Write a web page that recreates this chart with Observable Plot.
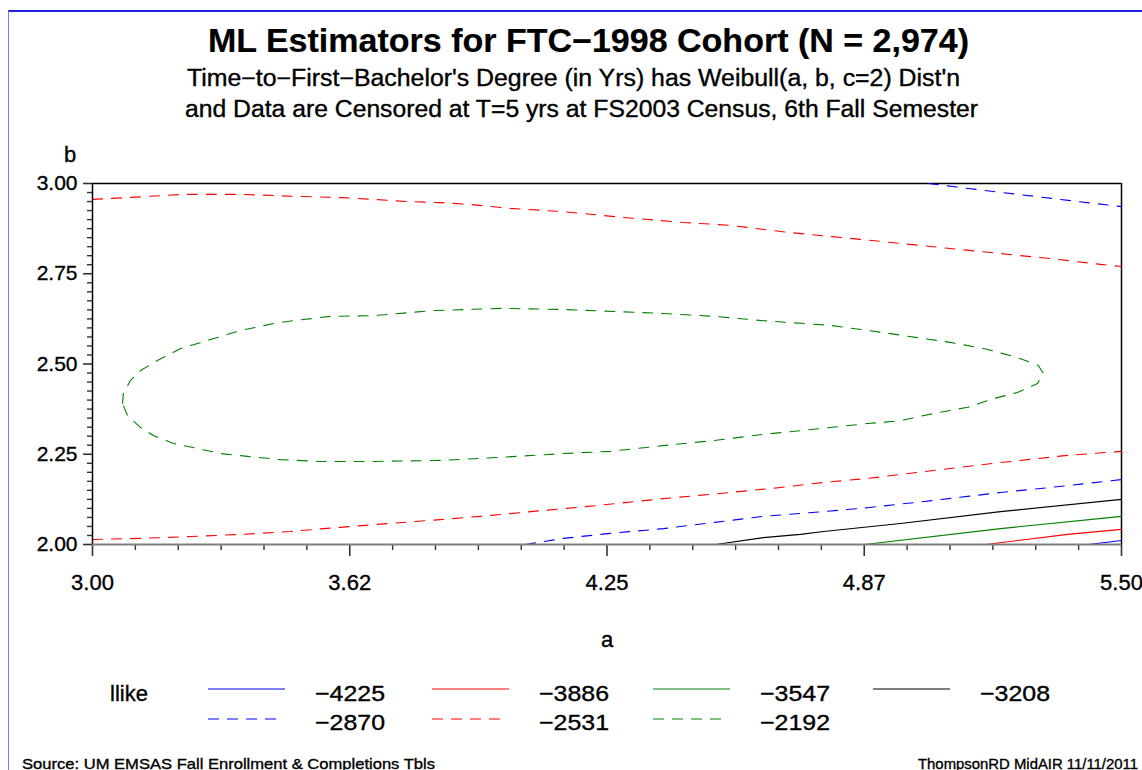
<!DOCTYPE html>
<html><head><meta charset="utf-8">
<script src="https://cdn.jsdelivr.net/npm/d3@7"></script>
<script src="https://cdn.jsdelivr.net/npm/@observablehq/plot@0.6"></script>
<style>
html,body{margin:0;padding:0;background:#fff;}
body{width:1142px;height:770px;overflow:hidden;position:relative;font-family:"Liberation Sans",Arial,sans-serif;color:#000;}
.t{position:absolute;white-space:nowrap;line-height:1;transform-origin:0 0;-webkit-text-stroke:0.35px #000;}
#chart{position:absolute;left:0;top:140px;}
#frame{position:absolute;left:8px;top:10px;right:0;bottom:0;border-top:2px solid #2020e0;border-left:1px solid #7878ff;}
</style></head><body>
<div id="frame"></div>
<div id="chart"></div>
<script>
// ---- data ----
const titleText = "ML Estimators for FTC\u22121998 Cohort (N = 2,974)";
const subtitle1 = "Time\u2212to\u2212First\u2212Bachelor's Degree (in Yrs) has Weibull(a, b, c=2) Dist'n";
const subtitle2 = "and Data are Censored at T=5 yrs at FS2003 Census, 6th Fall Semester";
const sourceText = "Source:  UM EMSAS Fall Enrollment & Completions Tbls";
const creditText = "ThompsonRD MidAIR 11/11/2011";
const legendTitle = "llike";

const xTicks = [3.0, 3.625, 4.25, 4.875, 5.5];
const xTickLabels = ["3.00", "3.62", "4.25", "4.87", "5.50"];
const yTicks = [2.0, 2.25, 2.5, 2.75, 3.0];
const yTickLabels = ["2.00", "2.25", "2.50", "2.75", "3.00"];

const levels = [-4225, -3886, -3547, -3208, -2870, -2531, -2192];

// contour lines (a, b)
const c2192 = [[3.073,2.391],[3.075,2.418],[3.092,2.454],[3.117,2.482],[3.158,2.510],[3.214,2.543],[3.279,2.565],[3.360,2.593],[3.440,2.612],[3.488,2.620],[3.578,2.632],[3.683,2.634],[3.828,2.648],[3.991,2.654],[4.144,2.651],[4.275,2.645],[4.387,2.640],[4.509,2.632],[4.630,2.620],[4.793,2.607],[4.922,2.587],[5.004,2.573],[5.084,2.560],[5.165,2.543],[5.247,2.518],[5.298,2.496],[5.310,2.474],[5.296,2.446],[5.247,2.421],[5.189,2.404],[5.126,2.380],[5.043,2.363],[4.963,2.343],[4.883,2.335],[4.793,2.324],[4.630,2.305],[4.509,2.288],[4.387,2.274],[4.258,2.258],[4.144,2.252],[3.984,2.241],[3.845,2.233],[3.683,2.230],[3.554,2.230],[3.457,2.235],[3.377,2.244],[3.311,2.252],[3.255,2.266],[3.197,2.280],[3.148,2.302],[3.117,2.324],[3.085,2.357],[3.073,2.391]];
const c2531top = [[3.000,2.956],[3.085,2.961],[3.221,2.970],[3.360,2.970],[3.505,2.964],[3.603,2.961],[3.683,2.956],[3.765,2.950],[3.845,2.947],[3.918,2.942],[4.016,2.931],[4.144,2.922],[4.290,2.906],[4.436,2.892],[4.550,2.884],[4.672,2.867],[4.793,2.853],[4.842,2.848],[4.963,2.834],[5.084,2.820],[5.206,2.806],[5.327,2.792],[5.449,2.776],[5.500,2.770]];
const c2531bot = [[3.000,2.014],[3.117,2.017],[3.238,2.022],[3.360,2.028],[3.481,2.036],[3.561,2.044],[3.683,2.055],[3.845,2.069],[3.943,2.078],[4.064,2.091],[4.227,2.108],[4.387,2.127],[4.550,2.144],[4.672,2.158],[4.776,2.172],[4.883,2.183],[5.043,2.205],[5.206,2.227],[5.369,2.247],[5.500,2.258]];
const c2870top = [[5.031,3.000],[5.109,2.989],[5.165,2.981],[5.247,2.970],[5.335,2.958],[5.432,2.945],[5.500,2.936]];
const c2870bot = [[4.052,2.000],[4.144,2.017],[4.251,2.030],[4.387,2.044],[4.509,2.061],[4.630,2.078],[4.776,2.091],[4.883,2.102],[5.043,2.122],[5.206,2.144],[5.369,2.163],[5.500,2.180]];
const c3208 = [[4.514,2.000],[4.630,2.019],[4.720,2.028],[4.776,2.036],[4.963,2.058],[5.206,2.091],[5.500,2.125]];
const c3547 = [[4.876,2.000],[5.206,2.044],[5.500,2.078]];
const c3886 = [[5.170,2.000],[5.369,2.028],[5.500,2.042]];
const c4225 = [[5.420,2.000],[5.500,2.011]];

const pieces = [
  {level: -4225, pts: c4225},
  {level: -3886, pts: c3886},
  {level: -3547, pts: c3547},
  {level: -3208, pts: c3208},
  {level: -2870, pts: c2870top},
  {level: -2870, pts: c2870bot},
  {level: -2531, pts: c2531top},
  {level: -2531, pts: c2531bot},
  {level: -2192, pts: c2192}
];

// ---- styles ----
const levelStyle = {
  "-4225": {color: "#0000ff", dash: false},
  "-3886": {color: "#ff0000", dash: false},
  "-3547": {color: "#008000", dash: false},
  "-3208": {color: "#000000", dash: false},
  "-2870": {color: "#0000ff", dash: true},
  "-2531": {color: "#ff0000", dash: true},
  "-2192": {color: "#008000", dash: true}
};
const DASH = "10,9";
const FONT = "'Liberation Sans', Arial, sans-serif";
const W = 1142, H = 520, MT = 43, ML = 92, MR = 21, MB = 116;
const FH = H - MT - MB, FW = W - ML - MR;
const TICK = "#333";

const xMinor = d3.range(0, 25).map(i => 3 + i * 0.625 / 6).filter((v, i) => i % 6 !== 0);
const yMinor = d3.range(0, 41).map(i => 2 + i * 0.025).filter((v, i) => i % 10 !== 0);

const lineMarks = pieces.map(p => {
  const s = levelStyle[String(p.level)];
  return Plot.line(p.pts, {x: d => d[0], y: d => d[1], stroke: s.color, strokeWidth: 1.1, strokeDasharray: s.dash ? DASH : null});
});

const chart = Plot.plot({
  width: W, height: H,
  marginTop: MT, marginLeft: ML, marginRight: MR, marginBottom: MB,
  style: {fontFamily: FONT, background: "transparent", overflow: "visible"},
  x: {domain: [3, 5.5]},
  y: {domain: [2, 3]},
  marks: [
    Plot.ruleY([3], {stroke: "#000", strokeWidth: 1.5}),
    Plot.ruleX([5.5], {stroke: "#000", strokeWidth: 1.5}),
    ...lineMarks,
    // tick marks (outside the frame)
    Plot.tickX(xMinor, {x: d => d, insetTop: FH - 6, dy: 6, stroke: TICK, strokeWidth: 1.4}),
    Plot.tickX(xTicks, {x: d => d, insetTop: FH - 12, dy: 12, stroke: TICK, strokeWidth: 1.6}),
    Plot.tickY(yMinor, {y: d => d, insetRight: FW - 5, dx: -5, stroke: TICK, strokeWidth: 1.4}),
    Plot.tickY(yTicks, {y: d => d, insetRight: FW - 9, dx: -9, stroke: TICK, strokeWidth: 1.6}),
    // tick labels
    Plot.axisX(xTicks, {tickSize: 12, tickPadding: 18, fontSize: 22, fill: "#000", stroke: "none",
      tickFormat: d => xTickLabels[xTicks.indexOf(d)], label: null}),
    Plot.axisY(yTicks, {tickSize: 9, tickPadding: 6, fontSize: 21, fill: "#000", stroke: "none",
      tickFormat: d => yTickLabels[yTicks.indexOf(d)], label: null}),
    Plot.ruleX([3], {stroke: "#000", strokeWidth: 1.5}),
    Plot.ruleY([2], {stroke: "#808080", strokeWidth: 2})
  ]
});
chart.querySelectorAll("text").forEach(t => { t.setAttribute("stroke", "#000"); t.setAttribute("stroke-width", "0.35"); });
document.getElementById("chart").appendChild(chart);

// ---- html text ----
function put(text, x, cy, size, opts = {}) {
  const el = document.createElement("div");
  el.className = "t";
  el.textContent = text;
  el.style.fontSize = size + "px";
  el.style.fontWeight = opts.bold ? "bold" : "normal";
  if (opts.bold) el.style.webkitTextStroke = "0.2px #000";
  document.body.appendChild(el);
  const w = el.getBoundingClientRect().width;
  let sx = 1;
  if (opts.width) sx = opts.width / w;
  const fw = w * sx;
  let left = x;
  if (opts.anchor === "middle") left = x - fw / 2;
  if (opts.anchor === "end") left = x - fw;
  el.style.left = left + "px";
  el.style.top = (cy - 0.49 * size) + "px";
  if (sx !== 1) el.style.transform = `scaleX(${sx})`;
  return el;
}

put(titleText, 208, 40, 33, {bold: true, width: 761});
put(subtitle1, 187, 78, 23, {width: 773});
put(subtitle2, 185, 109, 23, {width: 793});
put("b", 70, 155, 22, {anchor: "middle"});
put("a", 607, 640, 22, {anchor: "middle"});

// legend
put(legendTitle, 110, 694, 22);
const legendCols = [208, 432, 653, 873];
const legendRows = [[-4225, -3886, -3547, -3208], [-2870, -2531, -2192]];
const rowY = [689, 719];
const rowTextY = [694, 723];
legendRows.forEach((row, r) => row.forEach((lv, c) => {
  const s = levelStyle[String(lv)];
  const svg = d3.select(document.body).append("svg")
    .attr("width", 80).attr("height", 6)
    .style("position", "absolute").style("left", legendCols[c] + "px").style("top", (rowY[r] - 3) + "px");
  svg.append("line").attr("x1", 0).attr("x2", s.dash ? 68 : 77).attr("y1", 3).attr("y2", 3)
    .attr("stroke", s.color).attr("stroke-width", 1.2).attr("stroke-dasharray", s.dash ? "11,8" : null);
  put("\u2212" + Math.abs(lv), legendCols[c] + 107, rowTextY[r], 22, {width: 70});
}));

put(sourceText, 22, 763, 15, {width: 413});
put(creditText, 1138, 763, 15, {width: 220, anchor: "end"});
</script>
</body></html>
